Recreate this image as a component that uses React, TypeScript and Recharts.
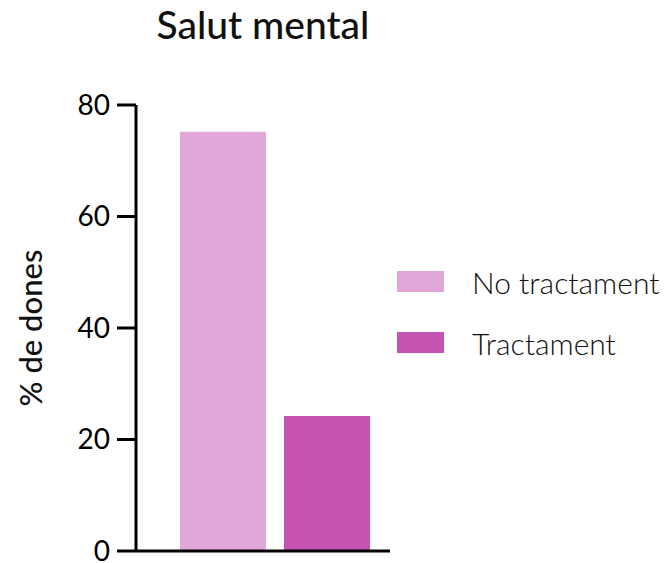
import { BarChart, Bar, XAxis, YAxis, Legend } from 'recharts';

const categories = ['Salut mental'];
const noTractament = [75.2];
const tractament = [24.2];
const yTicks = [0, 20, 40, 60, 80];

const data = categories.map((name, i) => ({
    name,
    noTract: noTractament[i],
    tract: tractament[i],
}));

const FONT = 'Lato, "Open Sans", sans-serif';

const LegendBox = ({ payload }: any) => (
    <div style={{ fontFamily: FONT, paddingLeft: 7, paddingTop: 146 }}>
        {(payload || []).map((entry: any) => (
            <div key={entry.value} style={{ display: 'flex', alignItems: 'center', height: 61 }}>
                <div style={{ width: 47, height: 21, background: entry.color, marginRight: 28 }} />
                <span style={{ fontSize: 30, fontWeight: 300, color: '#111', whiteSpace: 'nowrap' }}>{entry.value}</span>
            </div>
        ))}
    </div>
);

export default function App() {
    return (
        <div style={{ position: 'relative', width: 672, height: 563, background: '#fff' }}>
            <style>{'body{margin:0}'}</style>
            <div
                style={{
                    position: 'absolute',
                    left: 0,
                    top: 1,
                    width: 526,
                    textAlign: 'center',
                    fontFamily: FONT,
                    fontSize: 39,
                    fontWeight: 500,
                    color: '#111',
                }}
            >
                Salut mental
            </div>
            <BarChart
                width={672}
                height={563}
                data={data}
                margin={{ top: 105, right: 7, left: 0, bottom: 11 }}
                barGap={18}
                barCategoryGap={0}
            >
                <XAxis
                    dataKey="name"
                    tick={false}
                    height={1}
                    axisLine={{ stroke: '#000', strokeWidth: 3 }}
                    tickLine={false}
                    padding={{ left: 43, right: 19 }}
                />
                <YAxis
                    width={136}
                    domain={[0, 80]}
                    ticks={yTicks}
                    interval={0}
                    tickSize={19}
                    tickMargin={7}
                    axisLine={{ stroke: '#000', strokeWidth: 3 }}
                    tickLine={{ stroke: '#000', strokeWidth: 3 }}
                    tick={{ fill: '#000', fontSize: 28, fontFamily: FONT }}
                    label={{
                        value: '% de dones',
                        angle: -90,
                        position: 'insideLeft',
                        offset: 31,
                        style: { textAnchor: 'middle', fontSize: 31, fontWeight: 500, fill: '#111', fontFamily: FONT },
                    }}
                />
                <Legend
                    layout="vertical"
                    align="right"
                    verticalAlign="top"
                    content={<LegendBox />}
                    wrapperStyle={{ width: 275, height: 300 }}
                />
                <Bar dataKey="noTract" name="No tractament" fill="#E1A7D8" barSize={86} isAnimationActive={false} />
                <Bar dataKey="tract" name="Tractament" fill="#C453B2" barSize={86} isAnimationActive={false} />
            </BarChart>
        </div>
    );
}
